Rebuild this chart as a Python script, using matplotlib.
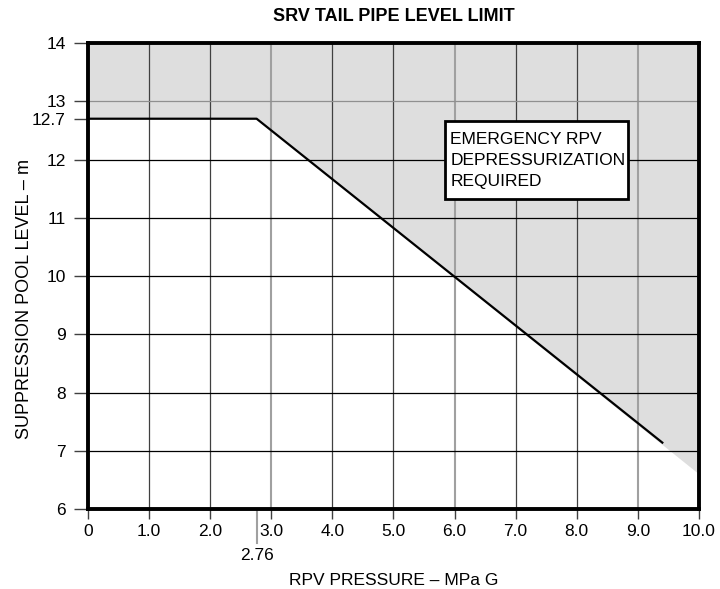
import matplotlib
matplotlib.use('Agg')
import matplotlib.pyplot as plt
from matplotlib.patches import Rectangle

plt.rcParams['font.family'] = ['Liberation Sans', 'DejaVu Sans']

# limit curve (pressure MPa G, level m)
limit_p = [0.0, 2.76, 9.4]
limit_lvl = [12.7, 12.7, 7.14]

# shaded region boundary continues to the right edge
shade_p = [0.0, 2.76, 10.0]
shade_lvl = [12.7, 12.7, 6.6]

x_ticks = [0, 1, 2, 3, 4, 5, 6, 7, 8, 9, 10]
x_labels = ['0', '1.0', '2.0', '3.0', '4.0', '5.0', '6.0', '7.0', '8.0', '9.0', '10.0']
y_ticks = [6, 7, 8, 9, 10, 11, 12, 12.7, 13, 14]
y_labels = ['6', '7', '8', '9', '10', '11', '12', '12.7', '13', '14']

light_x = [3, 6, 9]
dark_x = [1, 2, 4, 5, 7, 8]
dark_y = [7, 8, 9, 10, 11, 12]

fig = plt.figure(figsize=(7.2, 5.89), dpi=100)
ax = fig.add_axes([0.1222, 0.1358, 0.8486, 0.7912])

ax.fill_between(shade_p, shade_lvl, 14, color='#dedede', linewidth=0, zorder=0)

for x in dark_x:
    ax.axvline(x, color='#404040', lw=0.9, zorder=1)
for x in light_x:
    ax.axvline(x, color='#a0a0a0', lw=1.5, zorder=1)
for y in dark_y:
    ax.axhline(y, color='black', lw=0.9, zorder=1)
ax.axhline(13, color='#909090', lw=0.9, zorder=1)

ax.plot(limit_p, limit_lvl, color='black', lw=1.6, zorder=3)

ax.set_xlim(0, 10)
ax.set_ylim(6, 14)
ax.set_xticks(x_ticks)
ax.set_xticklabels(x_labels)
ax.set_yticks(y_ticks)
ax.set_yticklabels(y_labels)
ax.tick_params(axis='both', labelsize=12.5, width=1, color='#404040', direction='out')
ax.tick_params(axis='x', length=7, pad=4)
ax.tick_params(axis='y', length=10, pad=6)

# extra 2.76 tick below the axis
ax.plot([2.76, 2.76], [6, 5.42], color='#a0a0a0', lw=1.5, clip_on=False, zorder=2)
ax.text(2.76, 5.33, '2.76', ha='center', va='top', fontsize=12.5)

for s in ax.spines.values():
    s.set_linewidth(2.8)
    s.set_zorder(4)

ax.set_title('SRV TAIL PIPE LEVEL LIMIT', fontsize=13, fontweight='bold', pad=16)
ax.set_xlabel('RPV PRESSURE \u2013 MPa G', fontsize=12.5, labelpad=24)
ax.set_ylabel('SUPPRESSION POOL LEVEL \u2013 m', fontsize=13, labelpad=8)
ax.yaxis.set_label_coords(-0.09, 0.45)

# annotation box
ax.add_patch(Rectangle((5.84, 11.32), 3.0, 1.34, facecolor='white', edgecolor='black',
                       linewidth=2, zorder=5))
ax.text(5.93, 11.99, 'EMERGENCY RPV\nDEPRESSURIZATION\nREQUIRED', ha='left', va='center',
        fontsize=12.5, linespacing=1.5, zorder=6)

fig.savefig('out.png', dpi=100)
